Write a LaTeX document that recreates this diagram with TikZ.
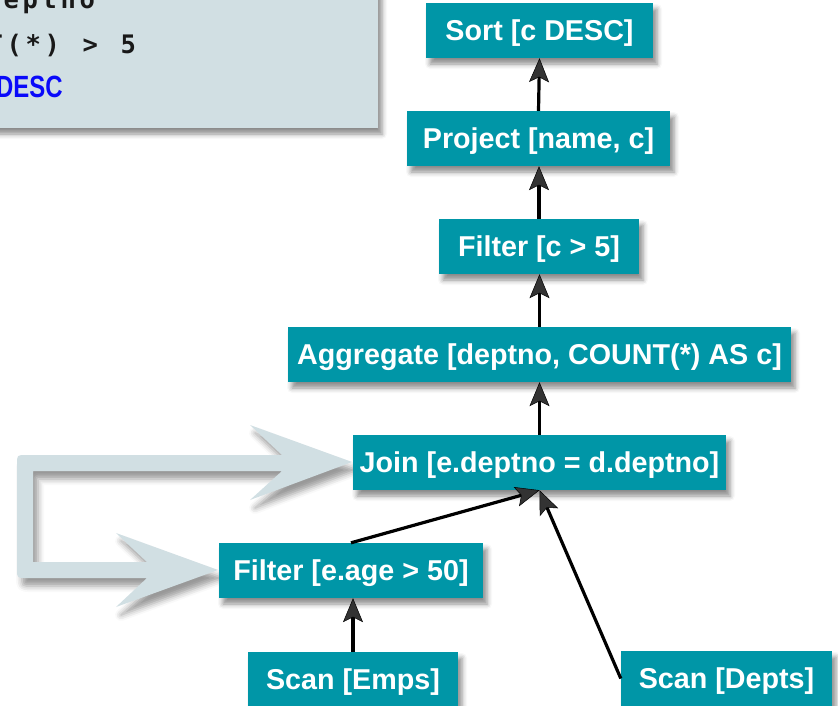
\documentclass[tikz,border=0pt]{standalone}
\usepackage{fontspec}
\setmainfont{Liberation Sans}
\newfontfamily\codemono{DejaVu Sans Mono}
\usetikzlibrary{arrows.meta,shadows.blur}

\definecolor{opteal}{RGB}{0,150,167}
\definecolor{panelgray}{RGB}{209,223,227}
\definecolor{kwblue}{RGB}{10,10,250}

% one fixed-pitch cell of the code listing
\newcommand{\monochar}[1]{\makebox[19pt][c]{#1}}

\tikzset{
  softshadow/.style={blur shadow={shadow xshift=4pt, shadow yshift=-6pt,
      shadow blur radius=5pt, shadow opacity=45}},
  opbox/.style={fill=opteal, text=white, softshadow,
      font=\bfseries\fontsize{28.7}{31}\selectfont,
      minimum height=55pt, inner sep=0pt, text height=20.6pt, text depth=0pt},
  flow/.style={line width=3.2pt,
      -{Stealth[length=24pt,width=20pt,inset=5pt,line width=0.5pt]}},
  codeline/.style={anchor=base west, inner sep=0pt, text=black!90,
      font=\codemono\bfseries\fontsize{25.5}{27}\selectfont},
}

\begin{document}
\begin{tikzpicture}[x=1pt,y=-1pt]
\useasboundingbox (0,0) rectangle (838,705);
\clip (0,0) rectangle (838,705);

% code panel with the query text
\fill[panelgray, softshadow] (-30,-30) rectangle (378,128);
\node[codeline] (q1) at (-17.5,8)
  {\monochar{d}\monochar{e}\monochar{p}\monochar{t}\monochar{n}\monochar{o}};
\node[codeline] (q2) at (-14.5,53)
  {\monochar{T}\monochar{(}\monochar{*}\monochar{)}\monochar{}\monochar{>}\monochar{}\monochar{5}};
\node[anchor=base west, inner sep=0pt, text=kwblue] (q3) at (-4,97)
  {\scalebox{0.78}[1]{\bfseries\fontsize{30.7}{32}\selectfont DESC}};

% wide loop arrow feeding the join and the filter
\fill[panelgray, blur shadow={shadow xshift=5pt, shadow yshift=-8pt,
      shadow blur radius=6pt, shadow opacity=40}]
  (352,462) -- (250,500) -- (282,471) -- (33,471) -- (33,562) -- (147,562)
  -- (116,533) -- (218,570) -- (116,607) -- (147,578)
  -- (26,578) .. controls (17,578) .. (17,569)
  -- (17,464) .. controls (17,455) .. (26,455)
  -- (282,455) -- (250,425) -- cycle;

% operator boxes
\node[opbox, minimum width=227pt] (sort)  at (539.5,30.5)  {Sort [c DESC]};
\node[opbox, minimum width=263pt] (proj)  at (538.5,138.5) {Project [name, c]};
\node[opbox, minimum width=200pt] (filtc) at (539,246.5)   {Filter [c > 5]};
\node[opbox, minimum width=503pt] (agg)   at (539.5,354.5) {Aggregate [deptno, COUNT(*) AS c]};
\node[opbox, minimum width=373pt] (join)  at (539.5,462.5) {Join [e.deptno = d.deptno]};
\node[opbox, minimum width=264pt] (filte) at (351,570.5)   {Filter [e.age > 50]};
\node[opbox, minimum width=210pt] (emps)  at (353,679.5)   {Scan [Emps]};
\node[opbox, minimum width=211pt] (depts) at (726.5,678.5) {Scan [Depts]};

% data flow
\draw[flow] (proj.north) -- (sort.south);
\draw[flow] (filtc.north) -- (filtc.north |- proj.south);
\draw[flow] (agg.north) -- (agg.north |- filtc.south);
\draw[flow] (join.north) -- (join.north |- agg.south);
\draw[flow] (filte.north) -- (join.south);
\draw[flow] (depts.west) -- (join.south);
\draw[flow] (emps.north) -- (emps.north |- filte.south);
\end{tikzpicture}
\end{document}
